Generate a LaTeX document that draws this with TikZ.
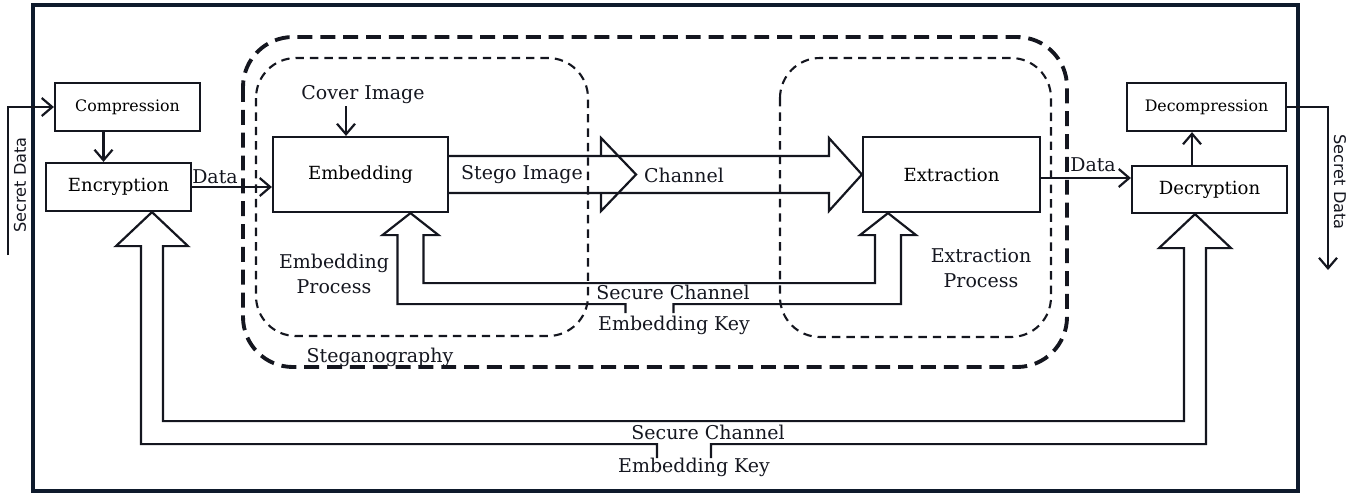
\documentclass[tikz,border=0pt]{standalone}
\usepackage{fontspec}
\setmainfont{DejaVu Serif}
\setsansfont{DejaVu Sans}
\usetikzlibrary{arrows.meta,calc}
\definecolor{StegInk}{HTML}{14161F}
\definecolor{StegFrame}{HTML}{0E1A2C}
\tikzset{
  flow/.style={-{Straight Barb[length=2.1mm,width=3.6mm]}, line width=1.25pt, draw=StegInk},
  block/.style={line width=1.25pt, draw=StegInk, line join=miter},
  stage/.style={draw=StegInk, line width=1.25pt, fill=white, align=center, inner sep=2pt,
                font=\fontsize{10.3}{12}\selectfont},
  small/.style={stage, font=\fontsize{9}{11}\selectfont},
  tag/.style={text=StegInk, align=center, inner sep=1pt},
  sidetext/.style={text=StegInk, font=\sffamily\fontsize{9.2}{11}\selectfont, inner sep=1pt},
  frame/.style={draw=StegFrame, line width=2.4pt},
  outergroup/.style={draw=StegInk, line width=2.2pt, dash pattern=on 8.5pt off 4.5pt, rounded corners=1cm},
  innergroup/.style={draw=StegInk, line width=1.2pt, dash pattern=on 4.8pt off 3.4pt, rounded corners=0.8cm},
}

\begin{document}
\begin{tikzpicture}[x=0.02cm,y=-0.02cm,font=\fontsize{10.8}{14}\selectfont]
  \useasboundingbox (0,0) rectangle (1354,495);
  \draw[frame] (33,5) rectangle (1298,491);

  % dashed groups
  \draw[outergroup] (243,37) rectangle (1067,367);
  \draw[innergroup] (256,58) rectangle (588,336);
  \draw[innergroup] (780,58) rectangle (1051,337);

  % boxes
  \node[small, minimum width=2.9cm, minimum height=0.96cm] (comp) at (127.5,107) {Compression};
  \node[stage, minimum width=2.9cm, minimum height=0.96cm] (encr) at (118.5,187) {Encryption};
  \node[stage, minimum width=3.5cm, minimum height=1.5cm] (embd) at (360.5,174.5) {Embedding};
  \node[stage, minimum width=3.54cm, minimum height=1.5cm] (extr) at (951.5,174.5) {Extraction};
  \node[stage, minimum width=3.1cm, minimum height=0.94cm] (decr) at (1209.5,189.5) {Decryption};
  \node[small, minimum width=3.18cm, minimum height=0.96cm] (decomp) at (1206.5,107) {Decompression};

  % labels
  \node[tag] (cover) at (363,95) {Cover Image};
  \node[tag] (datal) at (215,177) {Data};
  \node[tag] (stego) at (522,175) {Stego Image};
  \node[tag] (chan) at (684,175) {Channel};
  \node[tag] (datar) at (1093,165) {Data};
  \node[tag] (embproc) at (334,274) {Embedding\\Process};
  \node[tag] (extrproc) at (981,268) {Extraction\\Process};
  \node[tag] (steg) at (380,357) {Steganography};
  \node[tag] (sc1) at (673,292) {Secure Channel};
  \node[tag] (ek1) at (674,325) {Embedding Key};
  \node[tag] (sc2) at (708,432) {Secure Channel};
  \node[tag] (ek2) at (694,467) {Embedding Key};
  \node[sidetext, rotate=90] (sdin) at (20,185) {Secret Data};
  \node[sidetext, rotate=-90] (sdout) at (1340,182) {Secret Data};

  % plain connectors
  \coordinate (srcin) at (8,255);
  \coordinate (srcout) at (1328,270);
  \coordinate (compout) at ([xshift=-0.48cm]comp.south);
  \coordinate (decrout) at ([xshift=-0.35cm]decr.north);
  \coordinate (coverout) at ([xshift=-0.34cm]cover.south);
  \coordinate (extrout) at ([yshift=-0.07cm]extr.east);
  \draw[flow] (srcin) |- (comp.west);
  \draw[flow] (compout) -- (compout |- encr.north);
  \draw[flow] (encr.east) -- (encr.east -| embd.west);
  \draw[flow] (coverout) -- (coverout |- embd.north);
  \draw[flow] (extrout) -- (extrout -| decr.west);
  \draw[flow] (decrout) -- (decrout |- decomp.south);
  \draw[flow] (decomp.east) -| (srcout);

  % stego image / channel
  \draw[block] ($(embd.east)+(0,-18.5)$) -- ($(extr.west)+(-33,-18.5)$) -- ++(0,-18)
    -- (extr.west) -- ++(-33,36.5) -- ++(0,-18) -- ($(embd.east)+(0,18.5)$);
  \draw[block] ($(embd.east)+(152,-18.5)$) -- ++(0,-18) -- ++(35,36.5) -- ++(-35,36.5) -- ++(0,-18);

  % embedding key, inner secure channel
  \coordinate (tipA) at ([xshift=1cm]embd.south);
  \coordinate (tipB) at ([xshift=-1.27cm]extr.south);
  \draw[block] ($(tipA)+(215,100)$) -- ++(0,-9) -| ($(tipA)+(-13,22)$) -- ++(-15,0) -- (tipA)
    -- ++(28,22) -- ++(-15,0) |- ($(tipB)+(-13,70)$) -- ($(tipB)+(-13,22)$) -- ++(-15,0)
    -- (tipB) -- ++(28,22) -- ++(-15,0) |- ($(tipA)+(263,91)$) -- ++(0,9);

  % embedding key, outer secure channel
  \coordinate (keyL) at ([xshift=0.67cm]encr.south);
  \coordinate (keyR) at ([xshift=-0.29cm]decr.south);
  \draw[block] ($(keyL)+(505,246)$) -- ++(0,-14) -| ($(keyL)+(-11,34)$) -- ++(-25,0) -- (keyL)
    -- ++(36,34) -- ++(-25,0) |- ($(keyR)+(-11,207)$) -- ($(keyR)+(-11,34)$) -- ++(-25,0)
    -- (keyR) -- ++(36,34) -- ++(-25,0) |- ($(keyL)+(559,232)$) -- ++(0,14);
\end{tikzpicture}
\end{document}
